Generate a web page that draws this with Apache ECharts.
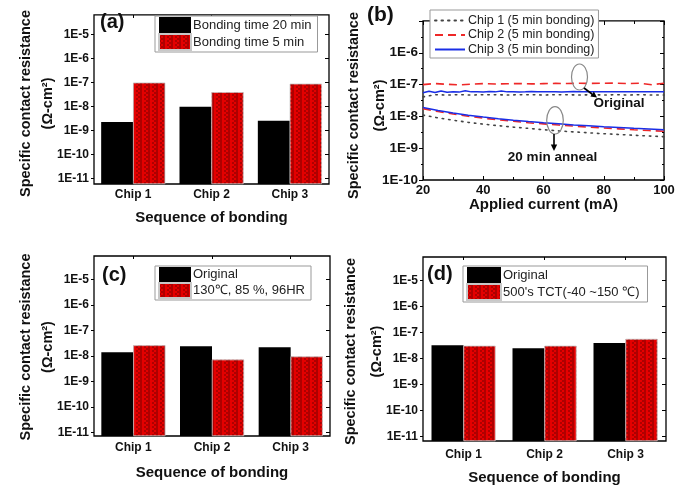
<!DOCTYPE html>
<html><head><meta charset="utf-8">
<script src="https://cdn.jsdelivr.net/npm/echarts@6/dist/echarts.min.js"></script>
<style>html,body{margin:0;padding:0;background:#fff}#c{width:688px;height:486px}</style>
</head><body><div id="c"></div>
<script>
// ---------- data ----------
const chips = ['Chip 1', 'Chip 2', 'Chip 3'];
const decadeTicks = [1e-11, 1e-10, 1e-9, 1e-8, 1e-7, 1e-6, 1e-5];

// (a)
const aNames = ['Bonding time 20 min', 'Bonding time 5 min'];
const a20min = [2.3e-9, 1.0e-8, 2.6e-9];
const a5min = [1.0e-7, 4.0e-8, 9.0e-8];

// (c)
const cNames = ['Original', '130\u2103, 85 %, 96HR'];
const cOriginal = [1.4e-8, 2.4e-8, 2.2e-8];
const cHumid = [2.6e-8, 7.2e-9, 9.5e-9];

// (d)
const dNames = ['Original', "500's TCT(-40 ~150 \u2103)"];
const dOriginal = [3.3e-8, 2.5e-8, 4.0e-8];
const dTct = [3.1e-8, 3.1e-8, 5.7e-8];

// (b)
const bNames = ['Chip 1 (5 min bonding)', 'Chip 2 (5 min bonding)', 'Chip 3 (5 min bonding)'];
const bCurrentStep5 = [20,25,30,35,40,45,50,55,60,65,70,75,80,85,90,95,100];
const bCurrentStep4 = [20,24,28,32,36,40,44,48,52,56,60,64,68,72,76,80,84,88,92,96,100];
const bCurrentStep2 = [20,22,24,26,28,30,32,34,36,38,40,42,44,46,48,50,52,54,56,58,60,62,64,66,68,70,72,74,76,78,80,82,84,86,88,90,92,94,96,98,100];
const bChip1Original = [4.1e-8,4.8e-8,4.7e-8,4.8e-8,4.7e-8,4.8e-8,4.8e-8,4.7e-8,4.8e-8,4.8e-8,4.7e-8,4.8e-8,4.8e-8,4.7e-8,4.8e-8,4.7e-8,4.8e-8,4.7e-8,4.8e-8,4.7e-8,4.7e-8];
const bChip2Original = [1.0e-7,1.08e-7,1.02e-7,0.98e-7,1.03e-7,1.07e-7,1.04e-7,1.06e-7,1.08e-7,1.05e-7,1.07e-7,1.09e-7,1.08e-7,1.1e-7,1.09e-7,1.1e-7,1.11e-7,1.08e-7,1.1e-7,0.99e-7,1.1e-7];
const bChip3Original = [5.5e-8,6.2e-8,5.6e-8,6.3e-8,5.7e-8,6.0e-8,5.8e-8,6.4e-8,5.9e-8,6.0e-8,5.8e-8,6.1e-8,5.9e-8,6.3e-8,5.9e-8,6.0e-8,5.8e-8,5.9e-8,6.1e-8,5.9e-8,6.0e-8,5.9e-8,6.0e-8,5.8e-8,6.0e-8,6.1e-8,5.9e-8,6.0e-8,5.9e-8,6.0e-8,6.0e-8,5.9e-8,6.0e-8,5.9e-8,6.0e-8,5.9e-8,5.9e-8,6.0e-8,5.9e-8,5.9e-8,5.9e-8];
const bChip1Anneal = [1.1e-8,9.0e-9,7.6e-9,6.5e-9,5.7e-9,5.1e-9,4.6e-9,4.2e-9,3.8e-9,3.5e-9,3.25e-9,3.05e-9,2.85e-9,2.7e-9,2.55e-9,2.42e-9,2.3e-9];
const bChip2Anneal = [1.75e-8,1.42e-8,1.19e-8,1.01e-8,8.8e-9,7.8e-9,7.0e-9,6.3e-9,5.8e-9,5.35e-9,4.95e-9,4.6e-9,4.3e-9,4.05e-9,3.8e-9,3.6e-9,3.4e-9];
const bChip3Anneal = [1.9e-8,1.52e-8,1.27e-8,1.09e-8,9.5e-9,8.4e-9,7.6e-9,6.9e-9,6.3e-9,5.85e-9,5.4e-9,5.1e-9,4.75e-9,4.5e-9,4.2e-9,4.0e-9,3.8e-9];

// ---------- helpers ----------
const FONT = 'Liberation Sans';
const lg = a => a.map(v => Math.log10(v));
const pairs = (xs, ys) => xs.map((x, i) => [x, Math.log10(ys[i])]);
const fmtE = v => '1E' + Math.round(v);

const grids = [
  {left: 94, top: 6, width: 235, height: 178},
  {left: 423, top: 6, width: 241, height: 174},
  {left: 94, top: 256, width: 236, height: 180},
  {left: 423, top: 257, width: 243, height: 184}
].map(g => Object.assign({show: true, borderColor: '#000', borderWidth: 1.3, backgroundColor: 'transparent'}, g));

const xAxes = [], yAxes = [], series = [], legends = [];
const tickLine = {color: '#000', width: 1};
const titleStyle = {fontFamily: FONT, fontWeight: 'bold', fontSize: 14.5, color: '#111', lineHeight: 22};

function barPanel(gi, yMin, yMax, labelMargin, nameGapX, nameGapY, namePadY, nameLH, names, s1, s2) {
  const xi = xAxes.length, yi = yAxes.length;
  xAxes.push({type: 'category', gridIndex: gi, data: chips,
    axisLine: {show: false},
    axisTick: {show: true, alignWithLabel: true, inside: true, length: 3, lineStyle: tickLine},
    axisLabel: {fontFamily: FONT, fontWeight: 'bold', fontSize: 12, color: '#111', margin: labelMargin},
    name: 'Sequence of bonding', nameLocation: 'middle', nameGap: nameGapX, nameMoveOverlap: false,
    nameTextStyle: {fontFamily: FONT, fontWeight: 'bold', fontSize: 15, color: '#111'}});
  xAxes.push({type: 'category', gridIndex: gi, data: chips, position: 'top',
    axisLine: {show: false}, axisLabel: {show: false},
    axisTick: {show: true, alignWithLabel: true, inside: true, length: 3, lineStyle: tickLine}});
  yAxes.push({type: 'value', gridIndex: gi, min: yMin, max: yMax, startValue: yMin,
    splitLine: {show: false}, axisLine: {show: false},
    axisTick: {show: true, customValues: lg(decadeTicks), length: 3, lineStyle: tickLine},
    axisLabel: {customValues: lg(decadeTicks), formatter: fmtE, fontFamily: FONT, fontWeight: 'bold', fontSize: 12, color: '#111', margin: 5},
    name: 'Specific contact resistance\n(\u03A9-cm\u00B2)', nameLocation: 'middle', nameGap: nameGapY, nameMoveOverlap: false,
    nameTextStyle: Object.assign({padding: [0, namePadY, 0, 0]}, titleStyle, {lineHeight: nameLH})});
  yAxes.push({type: 'value', gridIndex: gi, min: yMin, max: yMax, position: 'right',
    splitLine: {show: false}, axisLine: {show: false}, axisLabel: {show: false},
    axisTick: {show: true, inside: true, customValues: lg(decadeTicks), length: 4, lineStyle: tickLine}});
  series.push({type: 'bar', name: names[0], xAxisIndex: xi, yAxisIndex: yi, data: lg(s1),
    barWidth: 32, barGap: '0%', itemStyle: {color: '#000'}});
  series.push({type: 'bar', name: names[1], xAxisIndex: xi, yAxisIndex: yi, data: lg(s2),
    barWidth: 32, barGap: '0%',
    itemStyle: {color: '#e40000', borderColor: '#c8c8c8', borderWidth: 0.5,
      decal: {symbol: 'rect', symbolSize: 1, color: 'rgba(110,0,0,0.45)', dashArrayX: [[2, 2], [0, 2, 2]], dashArrayY: [2, 0], rotation: 0}}});
}

barPanel(0, -11.22, -4.18, 5, 26, 35, 8, 22, aNames, a20min, a5min);
// panel b axes
(function () {
  const xi = xAxes.length, yi = yAxes.length;
  xAxes.push({type: 'value', gridIndex: 1, min: 20, max: 100, interval: 20,
    splitLine: {show: false}, axisLine: {show: false},
    axisTick: {show: true, inside: true, length: 4, lineStyle: tickLine},
    minorTick: {show: true, splitNumber: 2, length: 3, lineStyle: tickLine},
    axisLabel: {fontFamily: FONT, fontWeight: 'bold', fontSize: 13, color: '#111', margin: 4},
    name: 'Applied current (mA)', nameLocation: 'middle', nameGap: 17, nameMoveOverlap: false,
    nameTextStyle: {fontFamily: FONT, fontWeight: 'bold', fontSize: 15, color: '#111'}});
  xAxes.push({type: 'value', gridIndex: 1, min: 20, max: 100, interval: 20, position: 'top',
    splitLine: {show: false}, axisLine: {show: false}, axisLabel: {show: false},
    axisTick: {show: true, inside: true, length: 4, lineStyle: tickLine},
    minorTick: {show: true, splitNumber: 2, length: 3, lineStyle: tickLine}});
  yAxes.push({type: 'value', gridIndex: 1, min: -10, max: -5, interval: 1,
    splitLine: {show: false}, axisLine: {show: false},
    axisTick: {show: true, length: 4, lineStyle: tickLine},
    minorTick: {show: true, splitNumber: 2, length: 2, lineStyle: tickLine},
    axisLabel: {showMaxLabel: false, formatter: fmtE, fontFamily: FONT, fontWeight: 'bold', fontSize: 13.5, color: '#111', margin: 5},
    name: 'Specific contact resistance\n(\u03A9-cm\u00B2)', nameLocation: 'middle', nameGap: 30, nameMoveOverlap: false,
    nameTextStyle: Object.assign({padding: [0, 10, 0, 0]}, titleStyle, {lineHeight: 26})});
  yAxes.push({type: 'value', gridIndex: 1, min: -10, max: -5, interval: 1, position: 'right',
    splitLine: {show: false}, axisLine: {show: false}, axisLabel: {show: false},
    axisTick: {show: true, inside: true, length: 4, lineStyle: tickLine},
    minorTick: {show: true, splitNumber: 2, length: 2, lineStyle: tickLine}});
  const dotted = {color: '#444', width: 1.6, type: [1.5, 5], cap: 'round'};
  const dashed = {color: '#ee2828', width: 1.6, type: [8, 5]};
  const solid = {color: '#1a2ee6', width: 1.5};
  const mk = (name, xs, ys, ls) => series.push({type: 'line', name, xAxisIndex: xi, yAxisIndex: yi,
    data: pairs(xs, ys), symbol: 'none', smooth: false, lineStyle: ls, itemStyle: {color: ls.color}, z: 3});
  mk(bNames[0], bCurrentStep4, bChip1Original, dotted);
  mk(bNames[1], bCurrentStep4, bChip2Original, dashed);
  mk(bNames[2], bCurrentStep2, bChip3Original, solid);
  mk(bNames[0], bCurrentStep5, bChip1Anneal, dotted);
  mk(bNames[1], bCurrentStep5, bChip2Anneal, dashed);
  mk(bNames[2], bCurrentStep5, bChip3Anneal, solid);
})();
barPanel(2, -11.13, -4.09, 6, 29, 35, 2, 22, cNames, cOriginal, cHumid);
barPanel(3, -11.17, -4.09, 8, 29, 33, 5, 26, dNames, dOriginal, dTct);

const legText = {fontFamily: FONT, fontSize: 13, color: '#222'};
const legBase = {orient: 'vertical', selectedMode: false, borderColor: '#999', borderWidth: 1, backgroundColor: '#fff'};
legends.push(Object.assign({}, legBase, {left: 155, top: 16, data: aNames, icon: 'rect', itemWidth: 32, itemHeight: 16, itemGap: 0, padding: [1, 6, 1, 3], textStyle: Object.assign({padding: [0, 0, 0, -3]}, legText)}));
legends.push(Object.assign({}, legBase, {left: 430, top: 10, data: bNames, itemWidth: 30, itemHeight: 14, itemGap: 1.5, padding: [4, 4, 2, 4],
  itemStyle: {opacity: 0}, textStyle: Object.assign({padding: [0, 0, 0, -2]}, legText, {fontSize: 12.5})}));
legends.push(Object.assign({}, legBase, {left: 155, top: 266, data: cNames, icon: 'rect', itemWidth: 32, itemHeight: 15, itemGap: 0, padding: [1, 6, 1, 3], textStyle: Object.assign({padding: [0, 0, 0, -3]}, legText)}));
legends.push(Object.assign({}, legBase, {left: 463, top: 266, data: dNames, icon: 'rect', itemWidth: 34, itemHeight: 16, itemGap: 0, padding: [1, 8, 1, 3], textStyle: Object.assign({padding: [0, 0, 0, -3]}, legText)}));

const lab = (t, x, y, fs) => ({type: 'text', left: x, top: y, style: {text: t, fontFamily: FONT, fontWeight: 'bold', fontSize: fs, fill: '#111'}, z: 10});
const annStroke = {stroke: '#888', lineWidth: 1.2, fill: 'none'};
const graphic = [
  lab('(a)', 100, 12, 20), lab('(b)', 367, 5, 21), lab('(c)', 102, 265, 20), lab('(d)', 427, 264, 20),
  {type: 'ellipse', shape: {cx: 579.5, cy: 77, rx: 8, ry: 13}, style: annStroke, z: 10},
  {type: 'polyline', shape: {points: [[584, 88], [592, 94]]}, style: {stroke: '#000', lineWidth: 1.6}, z: 10},
  {type: 'polygon', shape: {points: [[597, 97.5], [590.4, 96.4], [593.9, 91.5]]}, style: {fill: '#000'}, z: 10},
  {type: 'text', x: 619, y: 103.5, style: {text: 'Original', fontFamily: FONT, fontWeight: 'bold', fontSize: 13.5, fill: '#111', align: 'center', verticalAlign: 'middle'}, z: 10},
  {type: 'ellipse', shape: {cx: 555, cy: 120.3, rx: 8.3, ry: 13.7}, style: annStroke, z: 10},
  {type: 'polyline', shape: {points: [[554, 134], [554, 145]]}, style: {stroke: '#000', lineWidth: 1.6}, z: 10},
  {type: 'polygon', shape: {points: [[554, 151], [550.8, 144.5], [557.2, 144.5]]}, style: {fill: '#000'}, z: 10},
  {type: 'text', x: 552.5, y: 157.3, style: {text: '20 min anneal', fontFamily: FONT, fontWeight: 'bold', fontSize: 13.5, fill: '#111', align: 'center', verticalAlign: 'middle'}, z: 10}
];

const chart = echarts.init(document.getElementById('c'), null, {renderer: 'canvas'});
chart.setOption({
  animation: false,
  backgroundColor: '#fff',
  textStyle: {fontFamily: FONT},
  grid: grids, xAxis: xAxes, yAxis: yAxes, legend: legends, series: series, graphic: graphic
});
</script></body></html>
